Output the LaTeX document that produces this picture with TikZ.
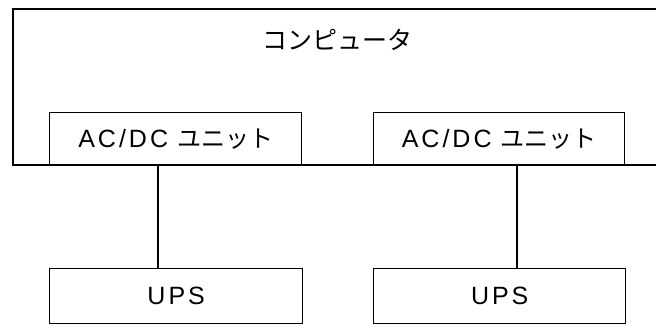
\documentclass[tikz,border=0pt]{standalone}
\usepackage{fontspec}
\setmainfont{Noto Sans CJK JP}
\newfontfamily\latinsp[LetterSpace=12]{Liberation Sans}
\begin{document}
\begin{tikzpicture}[x=1pt,y=-1pt,
  line width=1.4pt,
  unitbox/.style={draw, line width=1.4pt, anchor=north west, inner sep=0pt,
    font=\fontsize{24}{28}\selectfont},
  lbl/.style={inner sep=0pt, font=\fontsize{25}{29}\selectfont}]
\useasboundingbox (0,0) rectangle (656,325);
% computer enclosure (right side runs off the picture)
\draw (656,9) -- (13,9) -- (13,165) -- (656,165);
\node[lbl] (comp) at (337,40) {コンピュータ};
% AC/DC units
\node[unitbox, minimum width=252pt, minimum height=53pt] (acdc1) at (49,112) {{\latinsp\fontsize{25}{29}\selectfont AC/DC}\hspace*{9pt}ユニット};
\node[unitbox, minimum width=251pt, minimum height=53pt] (acdc2) at (373,112) {{\latinsp\fontsize{25}{29}\selectfont AC/DC}\hspace*{9pt}ユニット};
% UPS units
\node[unitbox, minimum width=253pt, minimum height=55pt] (ups1) at (49,268) {\latinsp\fontsize{25}{29}\selectfont UPS};
\node[unitbox, minimum width=252pt, minimum height=55pt] (ups2) at (373,268) {\latinsp\fontsize{25}{29}\selectfont UPS};
% connectors
\coordinate (l1) at (158,0);
\coordinate (l2) at (517,0);
\draw (acdc1.south -| l1) -- (ups1.north -| l1);
\draw (acdc2.south -| l2) -- (ups2.north -| l2);
\end{tikzpicture}
\end{document}
